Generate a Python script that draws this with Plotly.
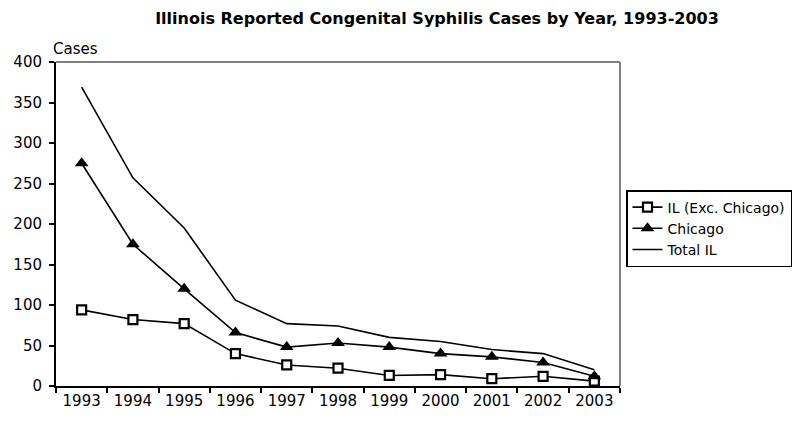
import plotly.graph_objects as go

years = ["1993", "1994", "1995", "1996", "1997", "1998", "1999", "2000", "2001", "2002", "2003"]
il_exc_chicago = [94, 82, 77, 40, 26, 22, 13, 14, 9, 12, 6]
chicago = [275, 175, 120, 66, 48, 53, 48, 40, 36, 29, 12]
total_il = [369, 257, 195, 106, 77, 74, 60, 55, 45, 40, 20]
y_ticks = [0, 50, 100, 150, 200, 250, 300, 350, 400]

FONT = "DejaVu Sans"
OFF = 8  # page body margin offset

L, R_EDGE, T, B_EDGE = 56 - OFF, 620 - OFF, 62 - OFF, 386 - OFF
W, H = 804, 421

fig = go.Figure()
fig.add_trace(go.Scatter(
    x=years, y=il_exc_chicago, name="IL (Exc. Chicago)", mode="lines+markers",
    line=dict(color="black", width=1.6),
    marker=dict(symbol="square", size=9, color="white", line=dict(color="black", width=2.2)),
))
fig.add_trace(go.Scatter(
    x=years, y=chicago, name="Chicago", mode="lines+markers",
    line=dict(color="black", width=1.6),
    marker=dict(symbol="triangle-up", size=12, color="black"),
))
fig.add_trace(go.Scatter(
    x=years, y=total_il, name="Total IL", mode="lines",
    line=dict(color="black", width=1.6),
))

plot_h = B_EDGE - T
plot_w = R_EDGE - L

fig.update_layout(
    width=W, height=H,
    margin=dict(l=L, r=W - R_EDGE, t=T, b=H - B_EDGE),
    paper_bgcolor="white", plot_bgcolor="white",
    font=dict(family=FONT, size=15, color="black"),
    title=dict(text="<b>Illinois Reported Congenital Syphilis Cases by Year, 1993-2003</b>",
               x=(437 - OFF) / W, xanchor="center", y=1 - (18 - OFF) / H, yanchor="middle",
               font=dict(size=16, family=FONT, color="black")),
    showlegend=True,
    legend=dict(x=(626 - OFF - L) / plot_w, xanchor="left",
                y=(B_EDGE - (190 - OFF)) / plot_h, yanchor="top",
                bordercolor="black", borderwidth=1.5, bgcolor="white",
                font=dict(size=14, family=FONT), tracegroupgap=0,
                itemwidth=30),
    xaxis=dict(type="category", range=[-0.5, 10.5], tickson="boundaries",
               showline=True, linecolor="black", linewidth=2,
               ticks="outside", ticklen=5, tickcolor="black", tickwidth=1.5,
               showgrid=False, zeroline=False, fixedrange=True, automargin=False,
               tickfont=dict(size=15)),
    yaxis=dict(range=[0, 400], tickvals=y_ticks,
               showline=True, linecolor="black", linewidth=2,
               ticks="outside", ticklen=5, tickcolor="black", tickwidth=1.5,
               showgrid=False, zeroline=False, fixedrange=True, automargin=False,
               ticklabelstandoff=4,
               tickfont=dict(size=15)),
    annotations=[dict(text="Cases", xref="paper", yref="paper", x=-0.008,
                      y=(B_EDGE - (49 - OFF)) / plot_h,
                      xanchor="left", yanchor="middle", showarrow=False,
                      font=dict(size=15))],
    shapes=[
        dict(type="line", xref="paper", yref="paper", x0=0, x1=1, y0=1, y1=1,
             line=dict(color="gray", width=2), layer="below"),
        dict(type="line", xref="paper", yref="paper", x0=1, x1=1, y0=0, y1=1,
             line=dict(color="gray", width=2), layer="below"),
    ],
)

fig.write_html("out.html")
